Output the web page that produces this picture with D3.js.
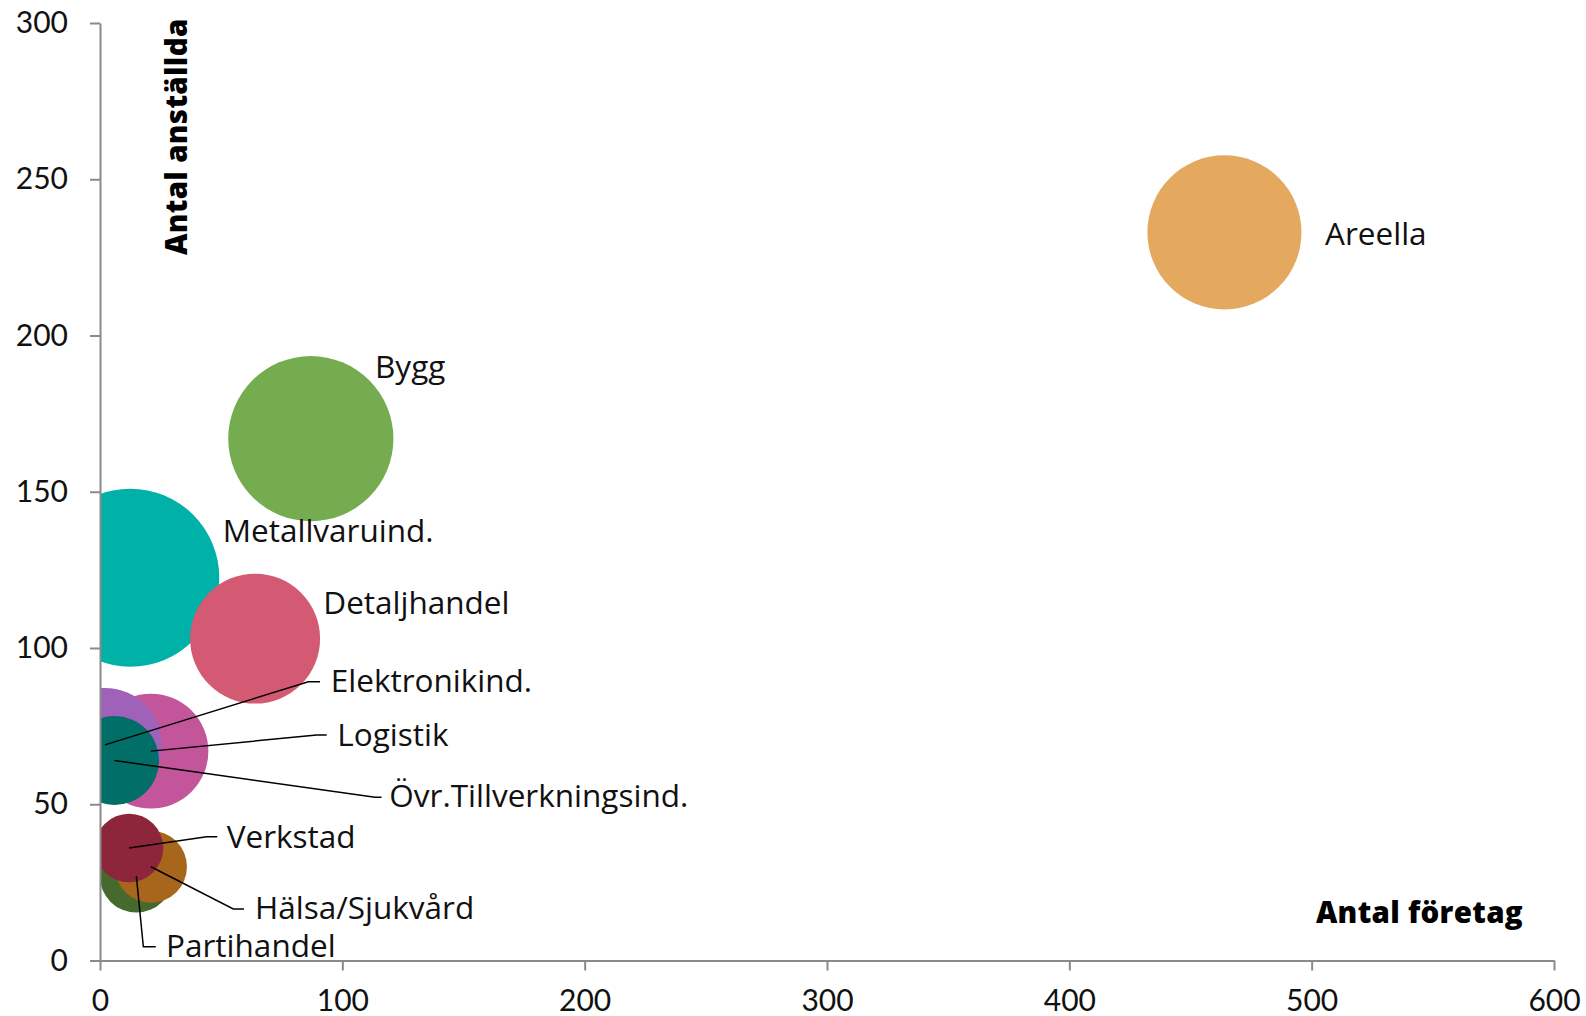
<!DOCTYPE html>
<html>
<head>
<meta charset="utf-8">
<script src="https://cdn.jsdelivr.net/npm/d3@7"></script>
<style>
  html, body { margin: 0; padding: 0; background: #fff; }
  svg { display: block; font-family: Lato, "Open Sans", sans-serif; }
</style>
</head>
<body>
<svg id="chart" width="1586" height="1016"></svg>
<script>
// ---- data (drawing order: bottom to top) ----
const categories = ["Areella", "Bygg", "Metallvaruind.", "Detaljhandel", "Logistik", "Elektronikind.", "Övr.Tillverkningsind.", "Partihandel", "Hälsa/Sjukvård", "Verkstad"];
const antalForetag = [464, 87, 12.5, 64, 21, 2, 6, 15, 21, 12];
const antalAnstallda = [233, 167, 122.5, 103, 67, 69, 64, 27, 30, 36];
const bubbleSize = [749, 861, 1000, 533, 417, 410, 250, 168, 164, 148];
const xTicks = [0, 100, 200, 300, 400, 500, 600];
const yTicks = [0, 50, 100, 150, 200, 250, 300];
const xTitle = "Antal företag";
const yTitle = "Antal anställda";

// ---- styles / layout ----
const colors = ["#E5A85F", "#75AC4F", "#00B1A8", "#D35A72", "#C3559A", "#A062B8", "#016E67", "#46692D", "#A8661C", "#8D263A"];
// label offsets relative to bubble centre (px): text start [tx,ty]; optional leader elbow [ex,ey] and end x
const labelLayout = [
  {tx: 100.6, ty: 12.6},
  {tx: 64.2, ty: -60.9},
  {tx: 92.4, ty: -35.4},
  {tx: 68.2, ty: -24.3},
  {tx: 186.4, ty: -5.1, ex: 165.8, ey: -16.1, endx: 175.8},
  {tx: 225.9, ty: -53.2, ex: 203.5, ey: -63.2, endx: 215.2},
  {tx: 274.8, ty: 46.2, ex: 260.5, ey: 36.8, endx: 267.0},
  {tx: 29.7, ty: 80.6, ex: 7, ey: 70.6, endx: 19.4},
  {tx: 104.1, ty: 52.5, ex: 82.4, ey: 42.2, endx: 93.1},
  {tx: 97.6, ty: 0.3, ex: 77.6, ey: -11.3, endx: 88.2}
];

const margin = {left: 100, right: 32, top: 23, bottom: 55.5};
const W = 1586, H = 1016;
const svg = d3.select("#chart");

const x = d3.scaleLinear().domain([0, 600]).range([margin.left, W - margin.right]);
const y = d3.scaleLinear().domain([0, 300]).range([H - margin.bottom, margin.top]);
const r = d3.scaleSqrt().domain([0, 1000]).range([0, 89]);

svg.append("defs").append("clipPath").attr("id", "plotClip")
  .append("rect")
  .attr("x", x(0)).attr("y", y(300))
  .attr("width", x(600) - x(0)).attr("height", y(0) - y(300));

// bubbles
const data = categories.map((c, i) => ({c, x: antalForetag[i], y: antalAnstallda[i], s: bubbleSize[i], col: colors[i], lab: labelLayout[i]}));

svg.append("g").attr("clip-path", "url(#plotClip)")
  .selectAll("circle").data(data).join("circle")
  .attr("cx", d => x(d.x)).attr("cy", d => y(d.y)).attr("r", d => r(d.s))
  .attr("fill", d => d.col);

// axes
const axisColor = "#8a8a8a";
const gx = svg.append("g").attr("transform", `translate(0,${y(0)})`)
  .call(d3.axisBottom(x).tickValues(xTicks).tickSize(10).tickPadding(19).tickSizeOuter(0));
const gy = svg.append("g").attr("transform", `translate(${x(0)},0)`)
  .call(d3.axisLeft(y).tickValues(yTicks).tickSize(10).tickPadding(22).tickSizeOuter(0));
[gx, gy].forEach(g => {
  g.select(".domain").attr("stroke", axisColor).attr("stroke-width", 2);
  g.selectAll(".tick line").attr("stroke", axisColor).attr("stroke-width", 2);
  g.selectAll(".tick text").attr("fill", "#111").style("font-size", "30px").style("font-family", "Lato, sans-serif");
});

// leader lines
const lg = svg.append("g");
data.filter(d => d.lab.ex !== undefined).forEach(d => {
  const cx = x(d.x), cy = y(d.y);
  lg.append("polyline")
    .attr("points", [[cx, cy], [cx + d.lab.ex, cy + d.lab.ey], [cx + d.lab.endx, cy + d.lab.ey]].map(p => p.join(",")).join(" "))
    .attr("fill", "none").attr("stroke", "#000").attr("stroke-width", 1.5);
});

// labels
svg.append("g").selectAll("text").data(data).join("text")
  .attr("x", d => x(d.x) + d.lab.tx).attr("y", d => y(d.y) + d.lab.ty)
  .attr("fill", "#111").style("font-size", "31.5px").style("font-family", "'Open Sans', sans-serif")
  .text(d => d.c);

// axis titles
svg.append("text")
  .attr("x", 1523).attr("y", 923).attr("text-anchor", "end")
  .style("font-size", "29.5px").style("font-weight", "800").style("letter-spacing", "0.3px")
  .style("font-family", "'Open Sans', sans-serif").attr("fill", "#000")
  .text(xTitle);
svg.append("text")
  .attr("transform", "translate(187,255) rotate(-90)")
  .attr("text-anchor", "start")
  .style("font-size", "29.5px").style("font-weight", "800").style("letter-spacing", "0.3px")
  .style("font-family", "'Open Sans', sans-serif").attr("fill", "#000")
  .text(yTitle);
</script>
</body>
</html>
